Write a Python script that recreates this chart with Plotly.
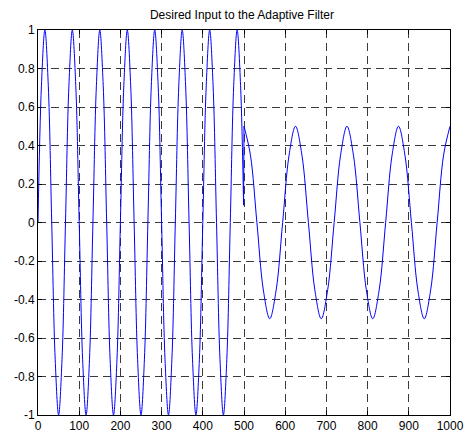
import plotly.graph_objects as go

# Segment 1: amplitude 1, period ~66.7 samples (points every 1/8 cycle)
x1 = [0, 8.3, 16.7, 25, 33.3, 41.7, 50, 58.3, 66.7, 75, 83.3, 91.7, 100, 108.3, 116.7, 125,
      133.3, 141.7, 150, 158.3, 166.7, 175, 183.3, 191.7, 200, 208.3, 216.7, 225, 233.3, 241.7,
      250, 258.3, 266.7, 275, 283.3, 291.7, 300, 308.3, 316.7, 325, 333.3, 341.7, 350, 358.3,
      366.7, 375, 383.3, 391.7, 400, 408.3, 416.7, 425, 433.3, 441.7, 450, 458.3, 466.7, 475,
      483.3, 491.7, 499]
y1 = [0, 0.71, 1, 0.71, 0, -0.71, -1, -0.71,
      0, 0.71, 1, 0.71, 0, -0.71, -1, -0.71,
      0, 0.71, 1, 0.71, 0, -0.71, -1, -0.71,
      0, 0.71, 1, 0.71, 0, -0.71, -1, -0.71,
      0, 0.71, 1, 0.71, 0, -0.71, -1, -0.71,
      0, 0.71, 1, 0.71, 0, -0.71, -1, -0.71,
      0, 0.71, 1, 0.71, 0, -0.71, -1, -0.71,
      0, 0.71, 1, 0.71, 0.09]

# Transition sample pair
xt = [499, 500]
yt = [0.09, 0.5]

# Segment 2: amplitude 0.5, period ~125 samples
x2 = [500, 515.6, 531.3, 546.9, 562.5, 578.1, 593.8, 609.4, 625, 640.6, 656.3, 671.9, 687.5,
      703.1, 718.8, 734.4, 750, 765.6, 781.3, 796.9, 812.5, 828.1, 843.8, 859.4, 875, 890.6,
      906.3, 921.9, 937.5, 953.1, 968.8, 984.4, 1000]
y2 = [0.5, 0.35, 0, -0.35, -0.5, -0.35, 0, 0.35,
      0.5, 0.35, 0, -0.35, -0.5, -0.35, 0, 0.35,
      0.5, 0.35, 0, -0.35, -0.5, -0.35, 0, 0.35,
      0.5, 0.35, 0, -0.35, -0.5, -0.35, 0, 0.35,
      0.5]

xticks = [0, 100, 200, 300, 400, 500, 600, 700, 800, 900, 1000]
yticks = [-1, -0.8, -0.6, -0.4, -0.2, 0, 0.2, 0.4, 0.6, 0.8, 1]
ylabels = ["-1", "-0.8", "-0.6", "-0.4", "-0.2", "0", "0.2", "0.4", "0.6", "0.8", "1"]

line = dict(color="#0000FF", width=1)
fig = go.Figure()
fig.add_trace(go.Scatter(x=x1, y=y1, mode="lines", line=dict(shape="spline", smoothing=1.0, **line)))
fig.add_trace(go.Scatter(x=xt, y=yt, mode="lines", line=line))
fig.add_trace(go.Scatter(x=x2, y=y2, mode="lines", line=dict(shape="spline", smoothing=1.0, **line)))

axis_common = dict(
    showline=True, linecolor="black", linewidth=1, mirror="ticks",
    ticks="inside", ticklen=4, tickcolor="black", automargin=False,
    showgrid=True, gridcolor="#3a3a3a", gridwidth=1, griddash="8px,5px",
    zeroline=False, tickfont=dict(family="Liberation Sans, Arial", size=12, color="black"),
)

fig.update_layout(
    width=464, height=433,
    margin=dict(l=38, r=14, t=30, b=18),
    paper_bgcolor="white", plot_bgcolor="white",
    showlegend=False,
    title=dict(text="Desired Input to the Adaptive Filter", x=0.5215, xanchor="center",
               y=0.966, yanchor="middle",
               font=dict(family="Liberation Sans, Arial", size=12, color="black")),
    xaxis=dict(range=[0, 1000], tickvals=xticks, ticktext=[str(v) for v in xticks], ticklabelstandoff=0, **axis_common),
    yaxis=dict(range=[-1, 1], tickvals=yticks, ticktext=ylabels, **axis_common),
)

fig.write_html("out.html")
